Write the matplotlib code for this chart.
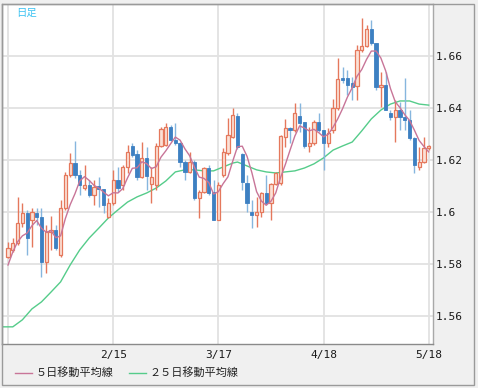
import matplotlib
matplotlib.use('Agg')
import matplotlib.pyplot as plt
import numpy as np
from matplotlib.patches import Rectangle

# ----------------- data -----------------
opens = [1.5827, 1.5854, 1.5881, 1.5958, 1.5996, 1.5969, 1.5996, 1.5981, 1.5808, 1.5923,
         1.5931, 1.5835, 1.6015, 1.6142, 1.6188, 1.6142, 1.6092, 1.6104, 1.6065, 1.6100,
         1.6088, 1.5981, 1.6035, 1.6123, 1.6104, 1.6173, 1.6254, 1.6223, 1.6135, 1.6208,
         1.6108, 1.6104, 1.6254, 1.6258, 1.6327, 1.6277, 1.6265, 1.6192, 1.6154, 1.6192,
         1.6054, 1.6077, 1.6169, 1.6077, 1.5969, 1.6142, 1.6227, 1.6288, 1.6369, 1.6223,
         1.6112, 1.6000, 1.5988, 1.6000, 1.6073, 1.6035, 1.6108, 1.6112, 1.6288, 1.6323,
         1.6315, 1.6369, 1.6346, 1.6254, 1.6265, 1.6346, 1.6315, 1.6265, 1.6315, 1.6400,
         1.6515, 1.6515, 1.6496, 1.6485, 1.6623, 1.6638, 1.6704, 1.6650, 1.6481, 1.6488,
         1.6381, 1.6365, 1.6392, 1.6365, 1.6354, 1.6285, 1.6173, 1.6192, 1.6246]
highs = [1.5885, 1.5900, 1.6058, 1.6035, 1.6008, 1.6015, 1.6015, 1.6015, 1.5950, 1.5985,
         1.5950, 1.6046, 1.6154, 1.6227, 1.6273, 1.6162, 1.6181, 1.6123, 1.6123, 1.6135,
         1.6088, 1.6054, 1.6162, 1.6173, 1.6181, 1.6258, 1.6265, 1.6238, 1.6269, 1.6250,
         1.6173, 1.6265, 1.6327, 1.6342, 1.6335, 1.6342, 1.6269, 1.6200, 1.6231, 1.6200,
         1.6085, 1.6173, 1.6181, 1.6123, 1.6115, 1.6246, 1.6362, 1.6400, 1.6381, 1.6227,
         1.6142, 1.6046, 1.6058, 1.6077, 1.6142, 1.6112, 1.6154, 1.6296, 1.6358, 1.6327,
         1.6419, 1.6419, 1.6346, 1.6327, 1.6354, 1.6381, 1.6315, 1.6323, 1.6435, 1.6592,
         1.6558, 1.6546, 1.6519, 1.6642, 1.6746, 1.6719, 1.6738, 1.6650, 1.6538, 1.6538,
         1.6392, 1.6431, 1.6423, 1.6515, 1.6392, 1.6288, 1.6250, 1.6288, 1.6258]
lows = [1.5823, 1.5846, 1.5873, 1.5942, 1.5835, 1.5865, 1.5950, 1.5750, 1.5765, 1.5854,
        1.5854, 1.5827, 1.6008, 1.6135, 1.6131, 1.6065, 1.6085, 1.6058, 1.6027, 1.6019,
        1.5996, 1.5977, 1.6027, 1.6077, 1.6085, 1.6150, 1.6212, 1.6123, 1.6131, 1.6085,
        1.6035, 1.6085, 1.6250, 1.6254, 1.6273, 1.6258, 1.6173, 1.6123, 1.6150, 1.6046,
        1.5977, 1.6073, 1.6065, 1.5969, 1.5969, 1.6135, 1.6219, 1.6285, 1.6242, 1.6085,
        1.6000, 1.5938, 1.5942, 1.5981, 1.6027, 1.5969, 1.6104, 1.6104, 1.6250, 1.6265,
        1.6308, 1.6308, 1.6246, 1.6231, 1.6258, 1.6308, 1.6162, 1.6250, 1.6304, 1.6392,
        1.6496, 1.6450, 1.6431, 1.6431, 1.6615, 1.6635, 1.6642, 1.6469, 1.6404, 1.6392,
        1.6354, 1.6269, 1.6315, 1.6315, 1.6277, 1.6150, 1.6162, 1.6188, 1.6238]
closes = [1.5862, 1.5881, 1.5958, 1.5996, 1.5900, 1.6000, 1.5981, 1.5808, 1.5923, 1.5931,
          1.5862, 1.6015, 1.6142, 1.6188, 1.6142, 1.6104, 1.6104, 1.6065, 1.6096, 1.6088,
          1.6027, 1.6035, 1.6123, 1.6092, 1.6173, 1.6231, 1.6219, 1.6135, 1.6208, 1.6138,
          1.6135, 1.6254, 1.6319, 1.6327, 1.6277, 1.6265, 1.6192, 1.6154, 1.6192, 1.6054,
          1.6077, 1.6169, 1.6073, 1.5969, 1.6104, 1.6231, 1.6296, 1.6373, 1.6250, 1.6115,
          1.6035, 1.5988, 1.6000, 1.6073, 1.6035, 1.6108, 1.6150, 1.6292, 1.6323, 1.6315,
          1.6381, 1.6342, 1.6254, 1.6265, 1.6346, 1.6315, 1.6265, 1.6304, 1.6400, 1.6512,
          1.6508, 1.6488, 1.6481, 1.6623, 1.6638, 1.6704, 1.6650, 1.6481, 1.6488, 1.6392,
          1.6365, 1.6392, 1.6365, 1.6354, 1.6285, 1.6181, 1.6192, 1.6246, 1.6254]

# 5-day moving average, one value per candle
ma5 = [1.5796, 1.5846, 1.5885, 1.5908, 1.5919, 1.5947, 1.5967, 1.5937, 1.5922, 1.5928,
       1.5901, 1.5908, 1.5975, 1.6028, 1.6070, 1.6119, 1.6136, 1.6121, 1.6102, 1.6092,
       1.6076, 1.6062, 1.6074, 1.6073, 1.6090, 1.6131, 1.6168, 1.6170, 1.6193, 1.6186,
       1.6167, 1.6174, 1.6211, 1.6235, 1.6262, 1.6288, 1.6276, 1.6243, 1.6216, 1.6172,
       1.6134, 1.6129, 1.6113, 1.6069, 1.6078, 1.6109, 1.6135, 1.6195, 1.6251, 1.6253,
       1.6214, 1.6152, 1.6078, 1.6042, 1.6026, 1.6041, 1.6073, 1.6132, 1.6182, 1.6238,
       1.6292, 1.6331, 1.6323, 1.6312, 1.6318, 1.6305, 1.6289, 1.6299, 1.6326, 1.6359,
       1.6398, 1.6442, 1.6478, 1.6522, 1.6548, 1.6587, 1.6619, 1.6619, 1.6592, 1.6543,
       1.6475, 1.6424, 1.6401, 1.6374, 1.6352, 1.6315, 1.6275, 1.6252, 1.6231]

# 25-day moving average, read at every other candle
ma25_idx = [0, 2, 4, 6, 8, 10, 12, 14, 16, 18, 20, 22, 24, 26, 28, 30, 32, 34, 36, 38,
            40, 42, 44, 46, 48, 49, 51, 53, 55, 57, 59, 61, 63, 65, 67, 69, 71, 73, 75,
            77, 79, 81, 83, 85, 87, 89]
ma25 = [1.5558, 1.5558, 1.5585, 1.5627, 1.5654, 1.5692, 1.5731, 1.5796, 1.5854, 1.5900,
        1.5938, 1.5977, 1.6008, 1.6038, 1.6058, 1.6073, 1.6092, 1.6119, 1.6154, 1.6162,
        1.6162, 1.6158, 1.6158, 1.6173, 1.6188, 1.6192, 1.6177, 1.6162, 1.6154, 1.6150,
        1.6154, 1.6158, 1.6169, 1.6185, 1.6208, 1.6238, 1.6254, 1.6269, 1.6312, 1.6358,
        1.6392, 1.6415, 1.6427, 1.6427, 1.6415, 1.6411]

tick_idx = [1, 23, 45, 67, 89]
tick_labels = ['', '2/15', '3/17', '4/18', '5/18']
y_ticks = [1.56, 1.58, 1.60, 1.62, 1.64, 1.66]
y_labels = ['1.56', '1.58', '1.6', '1.62', '1.64', '1.66']

UP_EDGE = '#e5785c'
UP_FILL = '#fbe1d6'
DOWN_BODY = '#3d80c2'
DOWN_WICK = '#86b6de'
MA5_COLOR = '#c87598'
MA25_COLOR = '#55cc8a'

# ----------------- figure -----------------
W, H = 478, 388
fig = plt.figure(figsize=(W / 100, H / 100), dpi=100, facecolor='#f0f0f0')
ax = fig.add_axes([2 / W, 1 - 344 / H, 431 / W, 340 / H])
ax.set_facecolor('white')

x = np.arange(1, len(opens) + 1)
o = np.array(opens)
h = np.array(highs)
l = np.array(lows)
c = np.array(closes)
up = c >= o

# wicks
ax.vlines(x[up], l[up], h[up], color=UP_EDGE, lw=1.0, zorder=3)
ax.vlines(x[~up], l[~up], h[~up], color=DOWN_WICK, lw=1.0, zorder=3)

# bodies
bottom = np.minimum(o, c)
height = np.maximum(np.abs(c - o), 0.0004)
ax.bar(x[up], height[up], bottom=bottom[up], width=0.68,
       facecolor=UP_FILL, edgecolor=UP_EDGE, linewidth=0.9, zorder=4)
ax.bar(x[~up], height[~up], bottom=bottom[~up], width=0.68,
       facecolor=DOWN_BODY, edgecolor=DOWN_BODY, linewidth=0.6, zorder=4)

# moving averages
l5, = ax.plot(x, ma5, color=MA5_COLOR, lw=1.0, zorder=5)
l25, = ax.plot(ma25_idx, ma25, color=MA25_COLOR, lw=1.0, zorder=2)

ax.set_xlim(-0.26, 89.9)
ax.set_ylim(1.5492, 1.6800)

ax.set_yticks(y_ticks)
ax.set_yticklabels(y_labels)
ax.yaxis.tick_right()
ax.set_xticks(tick_idx)
ax.set_xticklabels(tick_labels)
ax.tick_params(length=0, labelsize=8, colors='#1a1a1a')
ax.tick_params(axis='y', pad=2)
ax.tick_params(axis='x', pad=4)
for lab in ax.get_xticklabels() + ax.get_yticklabels():
    lab.set_family('DejaVu Sans Mono')

ax.grid(True, color='#e2e2e2', lw=1.3, zorder=0)
ax.set_axisbelow(True)

for side in ['top', 'right']:
    ax.spines[side].set_color('#a8a8a8')
ax.spines['left'].set_color('#8a8a8a')
ax.spines['bottom'].set_color('#8a8a8a')
for sp in ax.spines.values():
    sp.set_linewidth(1.0)

ax.text(14 / 431, 1 - 4 / 340, '日足', transform=ax.transAxes, ha='left', va='top',
        fontsize=7.5, color='#3fc3f2', family=['Noto Sans CJK JP', 'DejaVu Sans'])

# outer frame
fig.patches.append(Rectangle((2 / W, 1 - 385 / H), 472 / W, 381 / H,
                             transform=fig.transFigure, fill=False,
                             edgecolor='#9a9a9a', lw=1.0))

# legend below the plot
leg = fig.legend([l5, l25], ['５日移動平均線', '２５日移動平均線'],
                 loc='center left', bbox_to_anchor=(15 / W, 1 - 373 / H),
                 ncol=2, frameon=False, borderpad=0, borderaxespad=0,
                 handlelength=1.55, handletextpad=0.3, columnspacing=1.4,
                 prop={'family': ['Noto Sans CJK JP', 'DejaVu Sans'], 'size': 8})
for t in leg.get_texts():
    t.set_color('#222222')

fig.savefig('out.png', dpi=100, facecolor=fig.get_facecolor())
